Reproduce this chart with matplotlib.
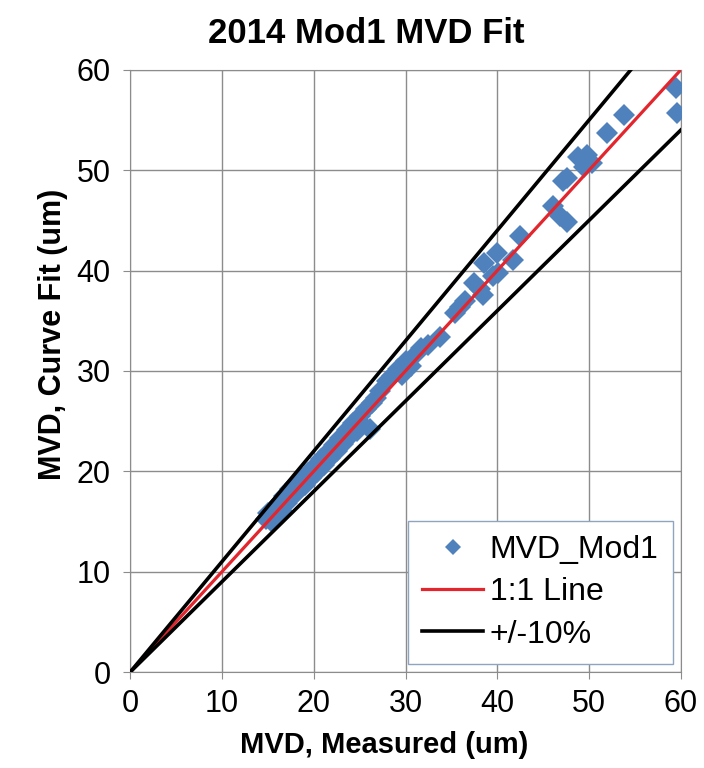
import numpy as np
import matplotlib.pyplot as plt

plt.rcParams['font.family'] = ['Liberation Sans', 'DejaVu Sans']

# MVD measured vs curve-fit values (um)
mvd_measured = [14.8, 15.0, 15.3, 15.6, 15.9, 16.2, 16.5, 16.8, 17.1, 17.4,
                17.8, 18.0, 18.3, 18.7, 19.0, 19.4, 19.7, 20.1, 20.4, 20.8,
                21.1, 21.5, 21.8, 22.2, 22.5, 22.9, 23.2, 23.6, 24.0, 24.3,
                24.7, 25.0, 25.3, 25.7, 26.1, 26.4, 26.8, 27.2, 28.0, 28.5,
                29.2, 29.6, 30.1, 30.6, 31.2, 31.7, 32.5, 33.8, 35.4, 35.9,
                36.5, 37.5, 38.1, 38.4, 38.6, 39.5, 40.0, 40.1, 41.7, 42.5,
                46.1, 46.8, 47.6, 47.2, 47.6, 48.8, 49.8, 49.4, 50.3, 52.0,
                53.8, 59.5, 59.6]
mvd_fit = [15.2, 15.8, 15.0, 16.2, 15.5, 16.8, 16.0, 17.5, 16.8, 18.2,
           17.6, 18.7, 18.0, 19.2, 18.6, 19.8, 19.3, 20.5, 19.9, 21.2,
           20.6, 21.9, 21.3, 22.6, 22.0, 23.3, 22.7, 24.1, 23.5, 24.8,
           24.0, 25.5, 24.7, 26.2, 24.2, 26.8, 27.3, 28.0, 29.0, 29.5,
           30.2, 29.6, 31.0, 30.5, 31.8, 32.3, 32.6, 33.4, 35.8, 36.4,
           37.0, 38.8, 38.2, 37.6, 40.8, 39.5, 41.8, 39.8, 41.1, 43.4,
           46.4, 45.4, 44.8, 48.9, 49.2, 51.3, 51.5, 50.3, 50.7, 53.7,
           55.5, 58.2, 55.7]

line_x = [0, 60]
one_to_one = [0, 60]
plus10 = [0, 66]
minus10 = [0, 54]

fig = plt.figure(figsize=(7.04, 7.68), dpi=100)
ax = fig.add_axes([0.185, 0.125, 0.782, 0.784])

ax.plot(mvd_measured, mvd_fit, linestyle='none', marker='D', ms=11,
        color='#4F81BD', markeredgewidth=0, label='MVD_Mod1', zorder=3)
ax.plot(line_x, one_to_one, color='#E3262E', lw=2.3, label='1:1 Line', zorder=4)
ax.plot(line_x, plus10, color='black', lw=2.6, label='+/-10%', zorder=4)
ax.plot(line_x, minus10, color='black', lw=2.6, zorder=4)

ax.set_xlim(0, 60)
ax.set_ylim(0, 60)
ax.set_xticks(range(0, 61, 10))
ax.set_yticks(range(0, 61, 10))
ax.grid(True, color='#8C8C8C', lw=1)
ax.set_axisbelow(True)
for s in ax.spines.values():
    s.set_color('#8C8C8C')
ax.tick_params(direction='out', length=5, color='#8C8C8C', labelsize=22)
ax.tick_params(axis='y', pad=9)
ax.tick_params(axis='x', pad=7)

fig.text(0.52, 0.957, '2014 Mod1 MVD Fit', fontsize=25, fontweight='bold',
         ha='center', va='center')
ax.set_xlabel('MVD, Measured (um)', fontsize=21, fontweight='bold', labelpad=9,
              x=0.461)
ax.set_ylabel('MVD, Curve Fit (um)', fontsize=22, fontweight='bold', labelpad=6,
              y=0.56)

leg = ax.legend(loc='lower right', fontsize=23, fancybox=False, framealpha=1,
                edgecolor='#8EA4C0', markerscale=0.7, borderaxespad=0.25,
                borderpad=0.45, handlelength=1.9, handletextpad=0.2,
                labelspacing=0.38)
leg.get_frame().set_linewidth(1)

fig.savefig('out.png', dpi=100)
